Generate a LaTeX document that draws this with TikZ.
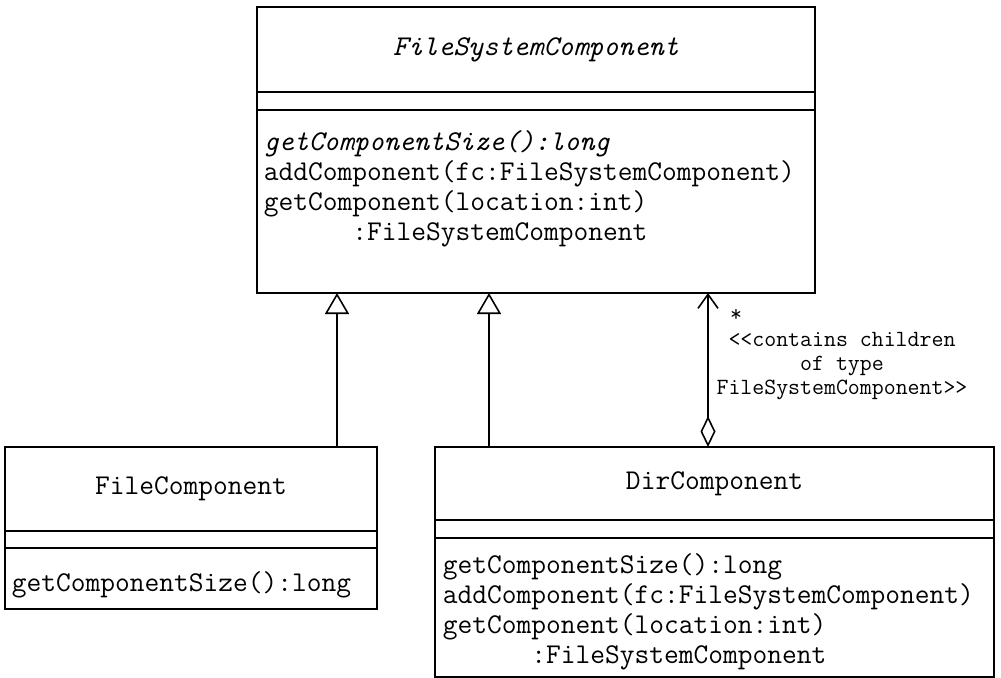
\documentclass[tikz,border=0pt]{standalone}
\usetikzlibrary{positioning, arrows.meta}

\begin{document}
\begin{tikzpicture}[x=0.2mm, y=-0.2mm, line width=0.9pt,
  font=\ttfamily\fontsize{16.3pt}{17pt}\selectfont,
  compart/.style={draw, inner sep=0, outer sep=0, minimum width=#1},
  ops/.style={anchor=north west, align=left, inner sep=0},
  inh/.style={-{Triangle[open, length=4.2mm, width=4.8mm]}},
  agg/.style={{Diamond[open, length=6.2mm, width=3mm]}-{Straight Barb[length=2.8mm, width=4mm]}},
  note/.style={font=\ttfamily\fontsize{13.2pt}{13.7pt}\selectfont, align=center, inner sep=0}]
\useasboundingbox (0,0) rectangle (1001,678);
% FileSystemComponent
\node[compart=111.6mm, minimum height=17mm, anchor=north west] (fscName) at (257,7) {\itshape FileSystemComponent};
\node[compart=111.6mm, minimum height=3.6mm, below=0pt of fscName] (fscAttr) {};
\node[compart=111.6mm, minimum height=36.6mm, below=0pt of fscAttr] (fscOps) {};
\node[ops] (fscOpsText) at ([xshift=1.2mm, yshift=-4mm]fscOps.north west)
  {{\itshape getComponentSize():long}\\addComponent(fc:FileSystemComponent)\\getComponent(location:int)\\\hphantom{mmmmmm}:FileSystemComponent};
% FileComponent
\node[compart=74.4mm, minimum height=16.8mm, anchor=north west] (fileName) at (5,447) {FileComponent};
\node[compart=74.4mm, minimum height=3.4mm, below=0pt of fileName] (fileAttr) {};
\node[compart=74.4mm, minimum height=12.2mm, below=0pt of fileAttr] (fileOps) {};
\node[ops] (fileOpsText) at ([xshift=1.2mm, yshift=-4.6mm]fileOps.north west) {getComponentSize():long};
% DirComponent
\node[compart=111.8mm, minimum height=14.6mm, anchor=north west] (dirName) at (435,447) {DirComponent};
\node[compart=111.8mm, minimum height=3.6mm, below=0pt of dirName] (dirAttr) {};
\node[compart=111.8mm, minimum height=27.8mm, below=0pt of dirAttr] (dirOps) {};
\node[ops] (dirOpsText) at ([xshift=1.4mm, yshift=-3mm]dirOps.north west)
  {getComponentSize():long\\addComponent(fc:FileSystemComponent)\\getComponent(location:int)\\\hphantom{mmmmmm}:FileSystemComponent};
% connectors
\coordinate (genFile) at ([xshift=66.4mm]fileName.north west);
\coordinate (genDir) at ([xshift=10.8mm]dirName.north west);
\coordinate (aggDir) at ([xshift=54.6mm]dirName.north west);
\draw[inh] (genFile) -- (genFile |- fscOps.south);
\draw[inh] (genDir) -- (genDir |- fscOps.south);
\draw[agg] (aggDir) -- (aggDir |- fscOps.south);
\node[note] (many) at (736,315) {*};
\node[note] (contains) at (842,366) {<<contains children\\of type\\FileSystemComponent>>};
\end{tikzpicture}
\end{document}
